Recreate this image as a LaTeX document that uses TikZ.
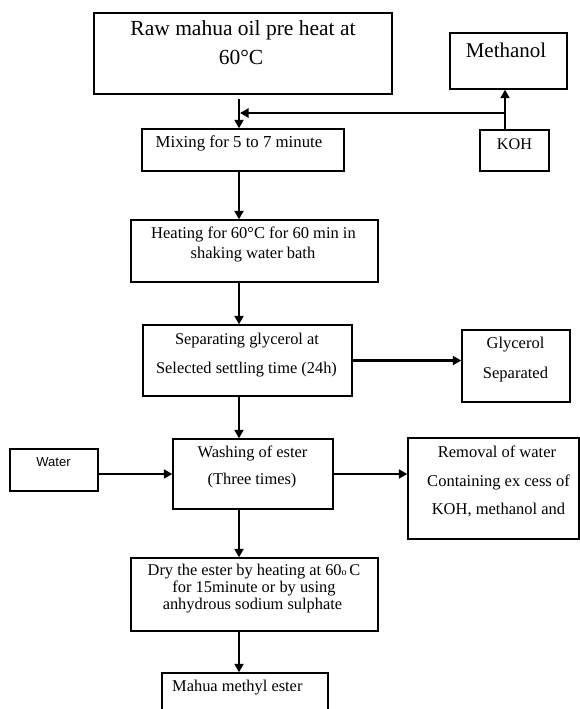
\documentclass[tikz,border=0pt]{standalone}
\usepackage{fontspec}
\setmainfont{Liberation Serif}
\newfontfamily\wfont{Liberation Sans}
\usetikzlibrary{arrows.meta}
\newcommand\myfs[1]{\fontsize{#1}{#1}\selectfont}
\begin{document}
\begin{tikzpicture}[x=1pt,y=-1pt,
  box/.style={draw=black, line width=1.4pt, inner sep=0pt, rectangle},
  t/.style={inner sep=0pt, anchor=base},
  flow/.style={line width=2.2pt, -{Triangle[length=8.5pt,width=9pt]}}]
\clip (0,0) rectangle (580,709);
\fill[white] (0,0) rectangle (580,709);
% boxes
\node[box, minimum width=298pt, minimum height=81pt] (raw) at (243,53.5) {};
\node[box, minimum width=117pt, minimum height=56pt] (meth) at (508.5,61) {};
\node[box, minimum width=202pt, minimum height=42pt] (mix) at (243,150) {};
\node[box, minimum width=69pt, minimum height=41pt] (koh) at (514.5,150.5) {};
\node[box, minimum width=247pt, minimum height=62pt] (heat) at (254.5,251) {};
\node[box, minimum width=209pt, minimum height=71pt] (sep) at (247.5,360.5) {};
\node[box, minimum width=108pt, minimum height=72pt] (gly) at (516,366) {};
\node[box, minimum width=160pt, minimum height=70pt] (wash) at (253,474) {};
\node[box, minimum width=88pt, minimum height=42pt] (water) at (54,470) {};
\node[box, minimum width=171pt, minimum height=101pt] (rem) at (493.5,488.5) {};
\node[box, minimum width=247pt, minimum height=73pt] (dry) at (254.5,594.5) {};
\node[box, minimum width=166pt, minimum height=60pt] (mah) at (245,703) {};
% texts
\node[t, font=\myfs{21.5}] (rawa) at (243,36) {Raw mahua oil pre heat at};
\node[t, font=\myfs{21.5}] (rawb) at (241,64) {60°C};
\node[t, font=\myfs{21}] (metht) at (506,58) {Methanol};
\node[t, font=\myfs{16.8}] (mixt) at (239,147) {Mixing for 5 to 7 minute};
\node[t, font=\myfs{16.2}] (koht) at (514.5,149) {KOH};
\node[t, font=\myfs{16.5}] (heata) at (253.5,238) {Heating for 60°C for 60 min in};
\node[t, font=\myfs{16.5}] (heatb) at (253,258) {shaking water bath};
\node[t, font=\myfs{16.4}] (sepa) at (247,344) {Separating glycerol at};
\node[t, font=\myfs{16.4}] (sepb) at (246.5,373) {Selected settling time (24h)};
\node[t, font=\myfs{16.5}] (glya) at (515.5,348) {Glycerol};
\node[t, font=\myfs{16.5}] (glyb) at (515.5,378) {Separated};
\node[t, font=\myfs{16.4}] (washa) at (252.5,457) {Washing of ester};
\node[t, font=\myfs{16.4}] (washb) at (252,484) {(Three times)};
\node[t, font=\wfont\myfs{13}] (watert) at (53.5,466) {Water};
\node[t, font=\myfs{16.5}] (rema) at (497,457) {Removal of water};
\node[t, font=\myfs{16.5}] (remb) at (498.5,486) {Containing ex cess of};
\node[t, font=\myfs{16.5}] (remc) at (498.5,514) {KOH, methanol and};
\node[t, font=\myfs{16.4}] (drya) at (254,575) {Dry the ester by heating at 60{\myfs{10}o}\,C};
\node[t, font=\myfs{16.4}] (dryb) at (254,592) {for 15minute or by using};
\node[t, font=\myfs{16.4}] (dryc) at (252.5,609) {anhydrous sodium sulphate};
\node[t, font=\myfs{16.4}, anchor=base west] (maht) at (172,691) {Mahua methyl ester};
% connectors
\coordinate (spine) at (239,0);
\coordinate (kx) at (505,0);
\coordinate (j) at (505,113);
\draw[flow] ([yshift=-4pt]raw.south -| spine) -- (mix.north -| spine);
\draw[line width=2.2pt] (koh.north -| kx) -- (j);
\draw[flow] (j) -- (meth.south -| kx);
\draw[flow] (j) -- ([xshift=1pt]j -| spine);
\draw[flow] (mix.south -| spine) -- (heat.north -| spine);
\draw[flow] (heat.south -| spine) -- (sep.north -| spine);
\draw[flow] (sep.east) -- (sep.east -| gly.west);
\draw[flow] (sep.south -| spine) -- (wash.north -| spine);
\draw[flow] ([xshift=-2pt]water.east |- wash.west) -- (wash.west);
\draw[flow] (wash.east) -- (wash.east -| rem.west);
\draw[flow] (wash.south -| spine) -- (dry.north -| spine);
\draw[flow] (dry.south -| spine) -- (mah.north -| spine);
\end{tikzpicture}
\end{document}
